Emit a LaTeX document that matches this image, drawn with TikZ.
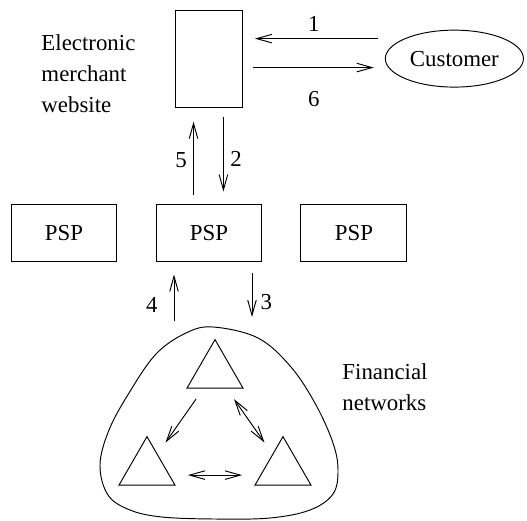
\documentclass[tikz,border=0pt]{standalone}
\usepackage{fontspec}
\setmainfont{Liberation Serif}
\usetikzlibrary{positioning,arrows.meta,shapes.geometric,calc}

\begin{document}
\begin{tikzpicture}[x=0.525pt,y=-0.525pt,>={Straight Barb[length=8pt,width=4.5pt]},
   line width=0.5pt,font=\fontsize{12}{16.3}\selectfont,node distance=20pt,
   box/.style={draw,rectangle,inner sep=0pt},
   psp/.style={box,minimum width=55.6pt,minimum height=30.4pt},
   tri/.style={draw,regular polygon,regular polygon sides=3,inner sep=0pt,minimum size=34pt},
   side text/.style={align=left,inner sep=0pt,anchor=west}]
  \useasboundingbox (0,0) rectangle (527,520);
  \node[psp] (psp1) at (64,233) {PSP};
  \node[psp] (psp2) [right=of psp1] {PSP};
  \node[psp] (psp3) [right=of psp2] {PSP};
  \node[box,minimum width=35.2pt,minimum height=50.9pt] (web) [above=50.4pt of psp2] {};
  \node[draw,ellipse,inner sep=0pt,minimum width=72.5pt,minimum height=29.9pt] (cust) [right=74.5pt of web] {Customer};
  \node[side text] (site) at (41,74) {Electronic\\merchant\\website};
  \node[side text] (fin) at (342,387) {Financial\\networks};
  % the financial networks
  \draw plot[smooth cycle,tension=0.6] coordinates {(213,327) (258,338) (291,367) (316,405)
    (333,443) (338,470) (333,494) (310,510) (270,518) (215,519) (162,517) (130,510)
    (108,495) (100,465) (109,430) (129,393) (156,354) (186,333)};
  \node[tri] (ttop) at (215,372) {};
  \node[tri] (tleft) at (147,469) {};
  \node[tri] (tright) at (283,469) {};
  \coordinate (net4) at (174,321);
  \coordinate (net3) at (252,317);
  \path[->]
   ([yshift=10.5pt]cust.west) edge[shorten <=3.7pt,shorten >=6.3pt] node[above]{1} ([yshift=10.5pt]web.east)
   ([yshift=-4.7pt]web.east) edge[shorten <=5.3pt,shorten >=5.8pt] node[below=9pt]{6} ([yshift=-4.7pt]cust.west)
   ([xshift=7.6pt]web.south) edge[shorten <=4.7pt,shorten >=6.3pt] node[right,pos=0.54]{2} ([xshift=7.6pt]psp2.north)
   ([xshift=-8.1pt]psp2.north) edge[shorten <=4.7pt,shorten >=7.4pt] node[left,pos=0.45]{5} ([xshift=-8.1pt]web.south)
   (net3 |- psp2.south) edge[shorten <=5.8pt] node[right=1pt,pos=0.73]{3} (net3)
   (net4) edge[shorten >=6.3pt] node[left=5pt,pos=0.27]{4} (net4 |- psp2.south)
   (ttop) edge[shorten <=6.7pt,shorten >=7.3pt] (tleft)
   (ttop) edge[<->,shorten <=6.7pt,shorten >=7.3pt] (tright)
   ([yshift=-3.2pt]tleft.center) edge[<->,shorten <=21.5pt,shorten >=21.5pt] ([yshift=-3.2pt]tright.center);
\end{tikzpicture}
\end{document}
